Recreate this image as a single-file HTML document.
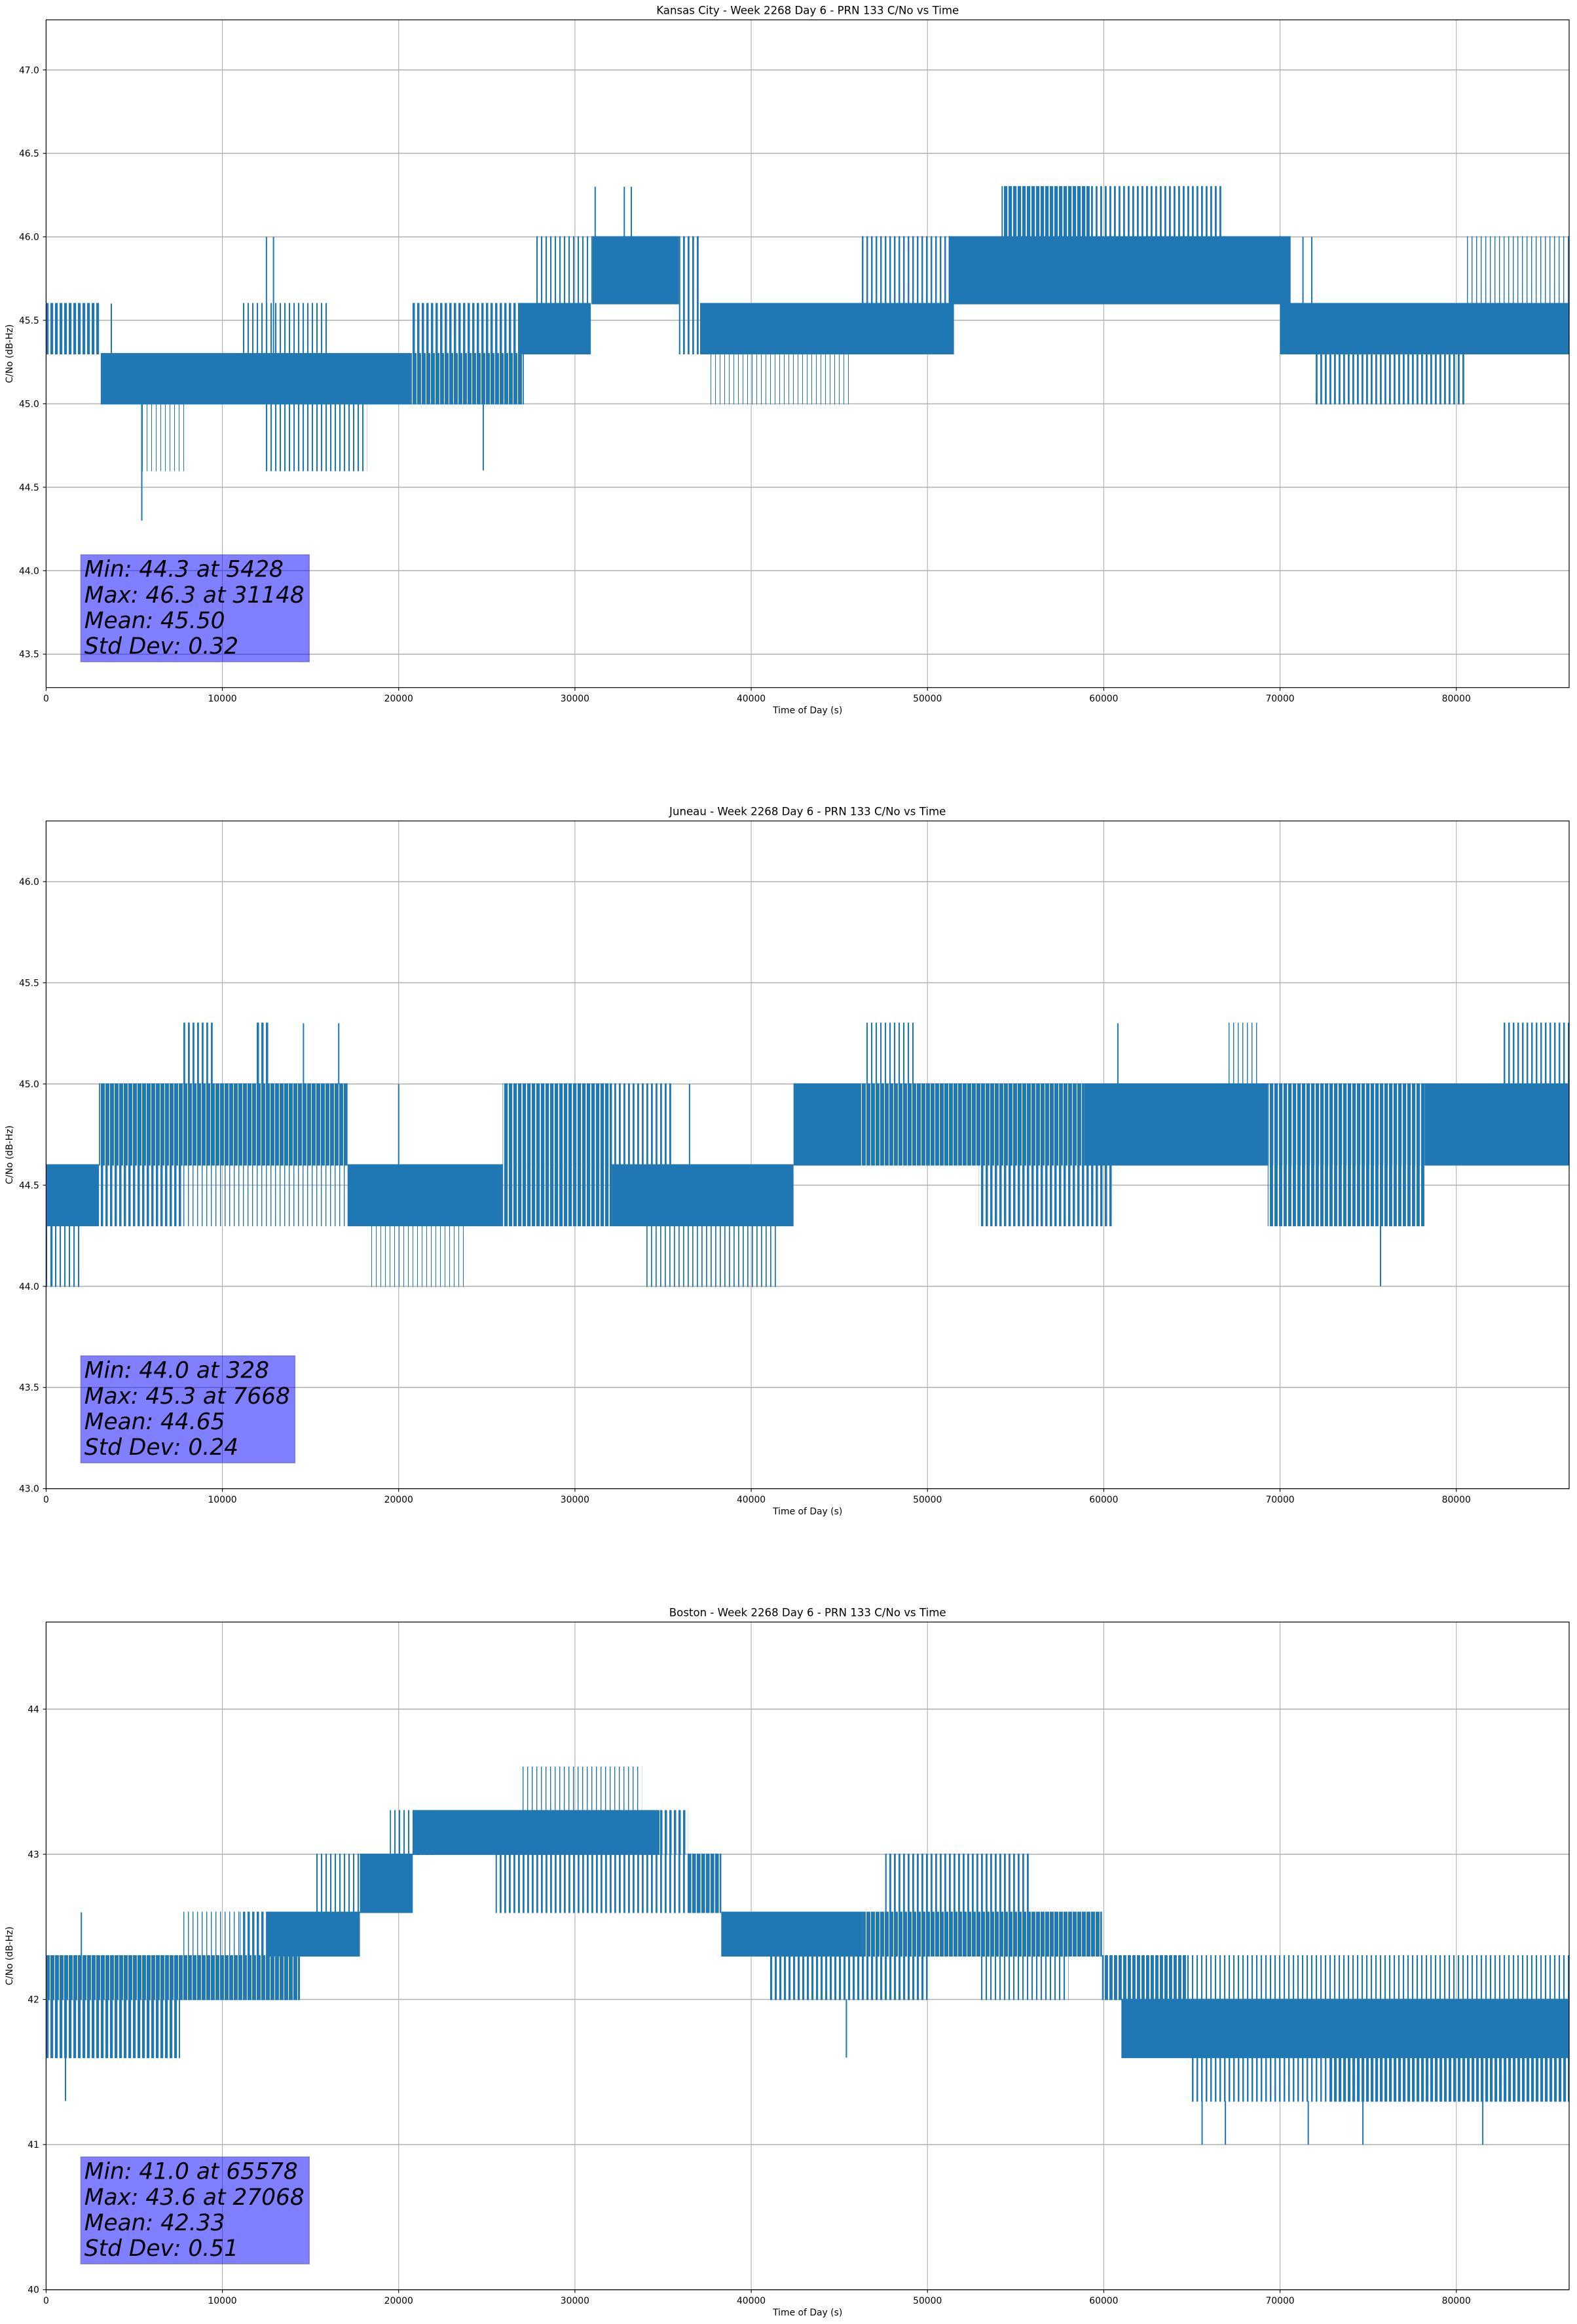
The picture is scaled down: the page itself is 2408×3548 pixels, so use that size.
<!DOCTYPE html>
<html><head><meta charset="utf-8"><title>C/No vs Time</title>
<style>
html,body{margin:0;padding:0;background:#fff;}
svg{display:block;font-family:"DejaVu Sans","Liberation Sans",sans-serif;}
</style></head>
<body>
<svg id="fig" xmlns="http://www.w3.org/2000/svg" width="2408" height="3548" viewBox="0 0 2408 3548"><defs id="defs"></defs></svg>
<script>
// ---------- Kansas City data (times in thousands of seconds) ----------
const kcBandStart = [0, 3.1, 20.7, 20.7, 11, 12.4, 5.4, 26.8, 27.8, 31, 35.9, 37.1, 46.2, 37.5, 51.2, 54.2, 59.2, 70.0, 71.9, 80.5];
const kcBandEnd   = [3.1, 20.7, 27.1, 27.1, 16, 18.2, 7.9, 30.9, 31, 35.9, 37.1, 51.5, 51.5, 45.6, 70.6, 59.2, 66.7, 86.4, 80.5, 86.4];
const kcBandLow   = [45.3, 45.0, 45.0, 45.3, 45.3, 44.6, 44.6, 45.3, 45.6, 45.6, 45.3, 45.3, 45.6, 45.0, 45.6, 46.0, 46.0, 45.3, 45.0, 45.6];
const kcBandHigh  = [45.6, 45.3, 45.3, 45.6, 45.6, 45.0, 45.0, 45.6, 46.0, 46.0, 46.0, 45.6, 46.0, 45.3, 46.0, 46.3, 46.3, 45.6, 45.3, 46.0];
const kcBandDensity = [0.6, 1, 0.85, 0.5, 0.3, 0.3, 0.1, 1, 0.3, 1, 0.4, 1, 0.35, 0.12, 1, 0.75, 0.4, 1, 0.4, 0.2];
const kcSpikeT    = [5.428, 12.5, 12.9, 31.148, 32.8, 33.2, 24.8, 3.7, 71.3, 71.8];
const kcSpikeFrom = [45.0, 45.3, 45.3, 46.0, 46.0, 46.0, 45.0, 45.3, 45.6, 45.6];
const kcSpikeTo   = [44.3, 46.0, 46.0, 46.3, 46.3, 46.3, 44.6, 45.6, 46.0, 46.0];
const kcStats = ["Min: 44.3 at 5428", "Max: 46.3 at 31148", "Mean: 45.50", "Std Dev: 0.32"];
const kcYTicks = [43.5, 44.0, 44.5, 45.0, 45.5, 46.0, 46.5, 47.0];

// ---------- Juneau data ----------
const juBandStart = [0, 3.0, 3.0, 7.7, 0, 7.7, 11.9, 17.1, 18.4, 25.9, 25.9, 32.1, 32.1, 34.0, 42.4, 46.2, 52.9, 46.4, 58.9, 69.3, 78.2, 69.3, 82.6, 66.9];
const juBandEnd   = [3.0, 7.7, 17.1, 17.1, 2.0, 9.6, 12.6, 25.9, 23.8, 32.1, 32.1, 35.6, 42.4, 41.5, 46.2, 58.9, 60.5, 49.3, 69.3, 78.2, 86.4, 78.2, 86.4, 68.8];
const juBandLow   = [44.3, 44.3, 44.6, 44.3, 44.0, 45.0, 45.0, 44.3, 44.0, 44.6, 44.3, 44.6, 44.3, 44.0, 44.6, 44.6, 44.3, 45.0, 44.6, 44.6, 44.6, 44.3, 45.0, 45.0];
const juBandHigh  = [44.6, 44.6, 45.0, 44.6, 44.3, 45.3, 45.3, 44.6, 44.3, 45.0, 44.6, 45.0, 44.6, 44.3, 45.0, 45.0, 44.6, 45.3, 45.0, 45.0, 45.0, 44.6, 45.3, 45.3];
const juBandDensity = [1, 0.5, 0.85, 0.2, 0.3, 0.4, 0.5, 1, 0.15, 0.75, 0.75, 0.4, 1, 0.25, 1, 0.85, 0.5, 0.3, 1, 0.75, 1, 0.7, 0.35, 0.2];
const juSpikeT    = [0.328, 14.6, 16.6, 60.8, 75.7, 20.0, 36.5];
const juSpikeFrom = [44.3, 45.0, 45.0, 45.0, 44.3, 44.6, 44.6];
const juSpikeTo   = [44.0, 45.3, 45.3, 45.3, 44.0, 45.0, 45.0];
const juStats = ["Min: 44.0 at 328", "Max: 45.3 at 7668", "Mean: 44.65", "Std Dev: 0.24"];
const juYTicks = [43.0, 43.5, 44.0, 44.5, 45.0, 45.5, 46.0];

// ---------- Boston data ----------
const boBandStart = [0, 0, 7.6, 7.6, 11.0, 12.5, 15.2, 17.8, 19.5, 20.8, 34.8, 27.0, 25.5, 36.4, 38.3, 46.3, 47.6, 41, 53, 59.9, 61, 64.7, 65, 72.7];
const boBandEnd   = [7.6, 7.6, 14.4, 11.0, 12.5, 17.8, 17.8, 20.8, 22, 34.8, 36.4, 33.8, 38.3, 38.3, 46.3, 59.9, 55.9, 50, 58, 64.7, 86.4, 86.4, 72.7, 86.4];
const boBandLow   = [42.0, 41.6, 42.0, 42.3, 42.3, 42.3, 42.6, 42.6, 43.0, 43.0, 43.0, 43.3, 42.6, 42.6, 42.3, 42.3, 42.6, 42.0, 42.0, 42.0, 41.6, 42.0, 41.3, 41.3];
const boBandHigh  = [42.3, 42.0, 42.3, 42.6, 42.6, 42.6, 43.0, 43.0, 43.3, 43.3, 43.3, 43.6, 43.0, 43.0, 42.6, 42.6, 43.0, 42.3, 42.3, 42.3, 42.0, 42.3, 41.6, 41.6];
const boBandDensity = [0.85, 0.6, 0.85, 0.2, 0.5, 1, 0.3, 1, 0.3, 1, 0.5, 0.2, 0.4, 0.8, 1, 0.85, 0.4, 0.45, 0.3, 0.7, 1, 0.3, 0.35, 0.6];
const boSpikeT    = [1.1, 65.578, 66.9, 71.6, 74.7, 81.5, 45.4, 2.0];
const boSpikeFrom = [41.6, 41.3, 41.3, 41.3, 41.3, 41.3, 42.0, 42.3];
const boSpikeTo   = [41.3, 41.0, 41.0, 41.0, 41.0, 41.0, 41.6, 42.6];
const boStats = ["Min: 41.0 at 65578", "Max: 43.6 at 27068", "Mean: 42.33", "Std Dev: 0.51"];
const boYTicks = [40, 41, 42, 43, 44];

const xTicks = [0, 10000, 20000, 30000, 40000, 50000, 60000, 70000, 80000];
const titles = ["Kansas City - Week 2268 Day 6 - PRN 133 C/No vs Time",
                "Juneau - Week 2268 Day 6 - PRN 133 C/No vs Time",
                "Boston - Week 2268 Day 6 - PRN 133 C/No vs Time"];

const NS = "http://www.w3.org/2000/svg";
const fig = document.getElementById("fig");
const defs = document.getElementById("defs");
const L = 70.4, R = 2396, H = 1019.4, XMAX = 86400;
const tops = [30.3, 1253.3, 2476.3];
const COLOR = "#1f77b4";
const PERIOD = 7;

function mk(tag, attrs, parent) {
  const e = document.createElementNS(NS, tag);
  for (const k in attrs) e.setAttribute(k, attrs[k]);
  parent.appendChild(e);
  return e;
}

const patCache = {};
function stripeFill(d) {
  if (d >= 0.99) return COLOR;
  const key = Math.round(d * 100);
  if (!patCache[key]) {
    const id = "stripe" + key;
    const pat = mk("pattern", {id:id, patternUnits:"userSpaceOnUse", x:0, y:0, width:PERIOD, height:10}, defs);
    mk("rect", {x:0, y:0, width:Math.max(1, d * PERIOD), height:10, fill:COLOR}, pat);
    patCache[key] = "url(#" + id + ")";
  }
  return patCache[key];
}

const panels = [
  {key:"kansas-city", ylim:[43.3, 47.3], yt:kcYTicks, dec:1, bs:kcBandStart, be:kcBandEnd, bl:kcBandLow, bh:kcBandHigh, bd:kcBandDensity, st:kcSpikeT, sf:kcSpikeFrom, sto:kcSpikeTo, stats:kcStats},
  {key:"juneau", ylim:[43.0, 46.3], yt:juYTicks, dec:1, bs:juBandStart, be:juBandEnd, bl:juBandLow, bh:juBandHigh, bd:juBandDensity, st:juSpikeT, sf:juSpikeFrom, sto:juSpikeTo, stats:juStats},
  {key:"boston", ylim:[40.0, 44.6], yt:boYTicks, dec:0, bs:boBandStart, be:boBandEnd, bl:boBandLow, bh:boBandHigh, bd:boBandDensity, st:boSpikeT, sf:boSpikeFrom, sto:boSpikeTo, stats:boStats}
];

panels.forEach((p, i) => {
  const top = tops[i], bot = top + H;
  const xS = t => L + (t / XMAX) * (R - L);
  const yS = v => bot - (v - p.ylim[0]) / (p.ylim[1] - p.ylim[0]) * H;

  const g = mk("g", {}, fig);
  
  

  const grid = mk("g", {stroke:"#b0b0b0", "stroke-width":"1.1"}, g);
  
  
  xTicks.forEach(t => { mk("line", {x1:xS(t), x2:xS(t), y1:top, y2:bot}, grid); });
  p.yt.forEach(v => { mk("line", {x1:L, x2:R, y1:yS(v), y2:yS(v), "stroke-width":"1.5"}, grid); });

  const ser = mk("g", {stroke:"none"}, g);
  
  
  for (let k = 0; k < p.bs.length; k++) {
    const x1 = xS(p.bs[k] * 1000), x2 = xS(p.be[k] * 1000);
    const y1 = yS(p.bh[k]), y2 = yS(p.bl[k]);
    const r = mk("rect", {x:x1, y:y1 - 1, width:Math.max(1, x2 - x1), height:(y2 - y1) + 2, fill:stripeFill(p.bd[k])}, ser);
    
    
  }
  for (let k = 0; k < p.st.length; k++) {
    const x = xS(p.st[k] * 1000);
    const l = mk("line", {x1:x, x2:x, y1:yS(p.sf[k]), y2:yS(p.sto[k]), stroke:COLOR, "stroke-width":"2"}, ser);
    
    
  }

  const sb = mk("g", {}, g);
  
  
  const bx = 123.3, bBot = bot - 39.4, bTop = bBot - 163.4;
  const rect = mk("rect", {x:bx, y:bTop, width:350, height:163.4, fill:"rgba(0,0,255,0.5)", stroke:"rgba(80,80,140,0.5)", "stroke-width":"1.5"}, sb);
  let maxW = 0;
  p.stats.forEach((s, j) => {
    const t = mk("text", {x:bx + 5.5, y:bTop + 33.7 + j * 39.2, "font-size":"34.4", "font-style":"italic", fill:"#000"}, sb);
    t.textContent = s;
    
    
    try { maxW = Math.max(maxW, t.getComputedTextLength()); } catch (e) {}
  });
  if (maxW > 0) rect.setAttribute("width", maxW + 13);

  const sp = mk("rect", {x:L, y:top, width:R - L, height:H, fill:"none", stroke:"#000", "stroke-width":"1.2"}, g);
  
  

  const xa = mk("g", {"font-size":"13.9", fill:"#000"}, g);
  
  
  xTicks.forEach(t => {
    mk("line", {x1:xS(t), x2:xS(t), y1:bot, y2:bot + 4.9, stroke:"#000", "stroke-width":"1.1"}, xa);
    const tx = mk("text", {x:xS(t), y:bot + 21.5, "text-anchor":"middle"}, xa);
    tx.textContent = String(t);
    
    
  });
  const xl = mk("text", {x:(L + R) / 2, y:bot + 39.5, "text-anchor":"middle", "font-size":"13.9"}, g);
  xl.textContent = "Time of Day (s)";
  
  

  const ya = mk("g", {"font-size":"13.9", fill:"#000"}, g);
  
  
  p.yt.forEach(v => {
    mk("line", {x1:L - 4.9, x2:L, y1:yS(v), y2:yS(v), stroke:"#000", "stroke-width":"1.1"}, ya);
    const ty = mk("text", {x:L - 10.5, y:yS(v) + 5, "text-anchor":"end"}, ya);
    ty.textContent = v.toFixed(p.dec);
    
    
  });
  const cy = top + H / 2;
  const yl = mk("text", {x:0, y:0, "text-anchor":"middle", "font-size":"13.9", transform:"translate(19," + cy + ") rotate(-90)"}, g);
  yl.textContent = "C/No (dB-Hz)";
  
  

  const tt = mk("text", {x:(L + R) / 2, y:top - 8.6, "text-anchor":"middle", "font-size":"16.6"}, g);
  tt.textContent = titles[i];
  
  
});
</script>
</body></html>
